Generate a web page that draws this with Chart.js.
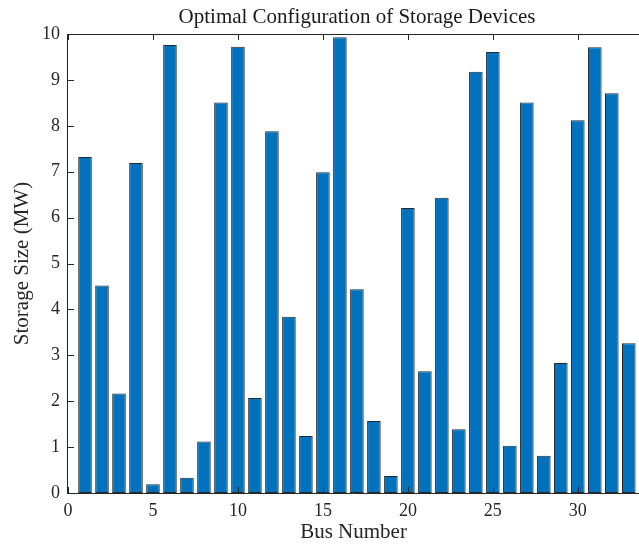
<!DOCTYPE html>
<html>
<head>
<meta charset="utf-8">
<script src="https://cdn.jsdelivr.net/npm/chart.js@4/dist/chart.umd.min.js"></script>
<style>
  html, body { margin: 0; padding: 0; background: #fff; }
  #wrap { width: 639px; height: 545px; }
</style>
</head>
<body>
<div id="wrap"><canvas id="chart" width="639" height="545"></canvas></div>
<script>
// Storage size per bus (MW)
const busNumbers = [1, 2, 3, 4, 5, 6, 7, 8, 9, 10, 11, 12, 13, 14, 15, 16, 17,
    18, 19, 20, 21, 22, 23, 24, 25, 26, 27, 28, 29, 30, 31, 32, 33];
const storageMW = [7.32, 4.52, 2.17, 7.19, 0.19, 9.76, 0.33, 1.12, 8.51, 9.72, 2.07,
    7.88, 3.84, 1.24, 6.99, 9.93, 4.44, 1.57, 0.37, 6.21, 2.65, 6.43, 1.39, 9.18,
    9.61, 1.03, 8.51, 0.81, 2.83, 8.12, 9.71, 8.71, 3.26];
const xTicks = [0, 5, 10, 15, 20, 25, 30];
const yTicks = [0, 1, 2, 3, 4, 5, 6, 7, 8, 9, 10];
const chartTitle = 'Optimal Configuration of Storage Devices';

const serif = "'Liberation Serif', 'DejaVu Serif', serif";

// MATLAB-style box with inward tick marks, title centred over the axes
const boxTicks = {
    id: 'boxTicks',
    afterDatasetsDraw(chart) {
        const { ctx, chartArea: a, scales } = chart;
        ctx.save();
        ctx.strokeStyle = '#262626';
        ctx.lineWidth = 1;
        ctx.beginPath();
        ctx.moveTo(a.left, a.bottom + 0.5);
        ctx.lineTo(a.right, a.bottom + 0.5);
        ctx.moveTo(a.left - 0.5, a.top);
        ctx.lineTo(a.left - 0.5, a.bottom + 1);
        ctx.moveTo(a.left, a.top + 0.5);
        ctx.lineTo(a.right, a.top + 0.5);
        xTicks.forEach(v => {
            const px = Math.round(scales.x.getPixelForValue(v)) + 0.5;
            ctx.moveTo(px, a.bottom);
            ctx.lineTo(px, a.bottom - 6);
            ctx.moveTo(px, a.top);
            ctx.lineTo(px, a.top + 6);
        });
        yTicks.forEach(v => {
            const py = Math.round(scales.y.getPixelForValue(v)) + 0.5;
            ctx.moveTo(a.left, py);
            ctx.lineTo(a.left + 6, py);
        });
        ctx.stroke();

        ctx.fillStyle = '#1a1a1a';
        ctx.font = '21px ' + serif;
        ctx.textAlign = 'center';
        ctx.textBaseline = 'middle';
        ctx.fillText(chartTitle, 357, 17);
        ctx.restore();
    }
};

new Chart(document.getElementById('chart'), {
    type: 'bar',
    data: {
        datasets: [{
            data: busNumbers.map((b, i) => ({ x: b, y: storageMW[i] })),
            backgroundColor: '#0072BD',
            borderColor: '#1f2a33',
            borderWidth: 1,
            borderSkipped: false,
            barPercentage: 0.8,
            categoryPercentage: 1
        }]
    },
    options: {
        responsive: false,
        animation: false,
        layout: { padding: { left: 0, right: 0, top: 34, bottom: 0 } },
        plugins: {
            legend: { display: false },
            tooltip: { enabled: false },
            title: { display: false }
        },
        scales: {
            x: {
                type: 'linear',
                min: 0,
                max: 33.6,
                offset: false,
                grid: { display: false, drawTicks: false },
                border: { display: false },
                afterBuildTicks: s => { s.ticks = xTicks.map(v => ({ value: v })); },
                ticks: {
                    color: '#262626',
                    font: { family: serif, size: 18 },
                    padding: 7,
                    maxRotation: 0
                },
                title: {
                    display: true,
                    text: 'Bus Number',
                    color: '#262626',
                    font: { family: serif, size: 21 },
                    padding: { top: 4, bottom: 0 }
                },
                afterFit: s => { s.height = 52; }
            },
            y: {
                min: 0,
                max: 10,
                grid: { display: false, drawTicks: false },
                border: { display: false },
                afterBuildTicks: s => { s.ticks = yTicks.map(v => ({ value: v })); },
                ticks: {
                    color: '#262626',
                    font: { family: serif, size: 18 },
                    padding: 8
                },
                title: {
                    display: true,
                    text: 'Storage Size (MW)',
                    color: '#262626',
                    font: { family: serif, size: 21 },
                    padding: { top: 10, bottom: 0 }
                },
                afterFit: s => { s.width = 68; }
            }
        }
    },
    plugins: [boxTicks]
});
</script>
</body>
</html>
